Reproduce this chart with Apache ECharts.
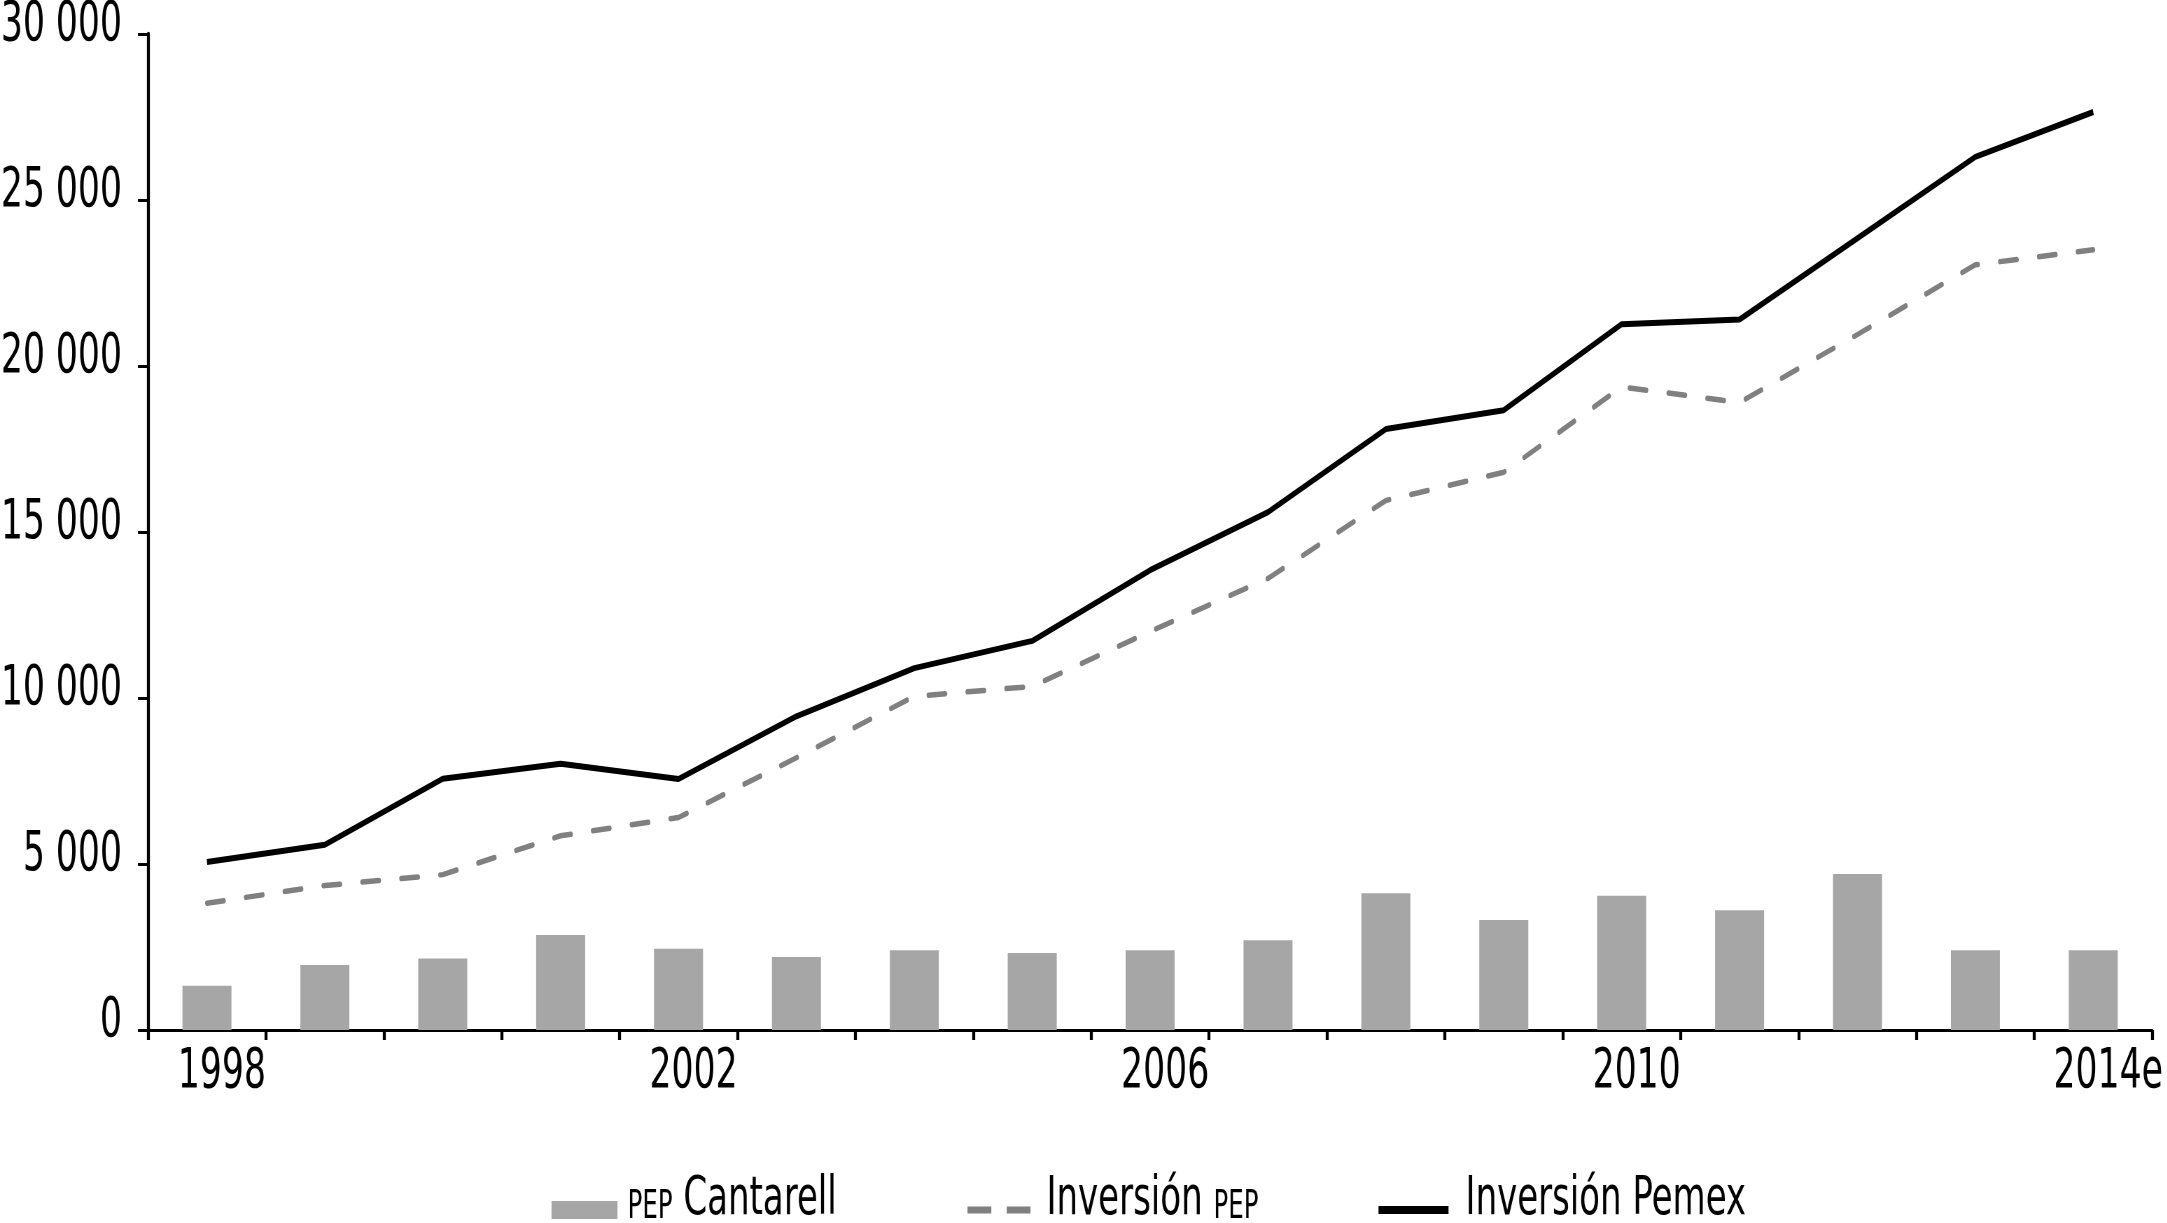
<!DOCTYPE html>
<html>
<head>
<meta charset="utf-8">
<script src="https://cdn.jsdelivr.net/npm/echarts@6/dist/echarts.min.js"></script>
<style>
html,body{margin:0;padding:0;background:#fff;overflow:hidden;width:2167px;height:1223px;}
#chart{width:3096px;height:1223px;transform:scaleX(0.7);transform-origin:0 0;}
</style>
</head>
<body>
<div id="chart"></div>
<script>
var years = ['1998','1999','2000','2001','2002','2003','2004','2005','2006','2007','2008','2009','2010','2011','2012','2013','2014e'];
var pepCantarell = [1330,1955,2150,2860,2445,2200,2400,2320,2400,2700,4120,3310,4040,3610,4700,2400,2400];
var inversionPEP = [3820,4350,4680,5850,6400,8200,10050,10350,12000,13600,15950,16800,19370,18900,20950,23050,23500];
var inversionPemex = [5060,5580,7570,8020,7560,9450,10900,11720,13850,15600,18100,18670,21260,21400,23850,26300,27650];
var yTicks = {min:0, max:30000, interval:5000};

// The chart is drawn 1/0.7 wider and squeezed with CSS to obtain condensed lettering.
var SX = 0.7;
function px(v){ return v / SX; }
var FONT = "'DejaVu Sans Condensed','DejaVu Sans',sans-serif";
var chart = echarts.init(document.getElementById('chart'));
var rich = {
  s:{fontFamily:FONT,fontSize:39,color:'#000',verticalAlign:'bottom',lineHeight:54},
  b:{fontFamily:FONT,fontSize:54,color:'#000',verticalAlign:'bottom',lineHeight:54}
};
function legendCfg(name,icon,left,w,h,gap){
  return {
    data:[{name:name,icon:icon}], left:px(left), top:1168, itemWidth:px(w), itemHeight:h, itemGap:0,
    textStyle:{fontFamily:FONT,fontSize:54,color:'#000',rich:rich,lineHeight:54,padding:[0,0,20,px(gap)-5]},
    formatter:function(n){
      if(n==='PEP Cantarell') return '{s|PEP} {b|Cantarell}';
      if(n==='Inversión PEP') return '{b|Inversión} {s|PEP}';
      return '{b|Inversión Pemex}';
    }
  };
}
chart.setOption({
  animation:false,
  backgroundColor:'#fff',
  grid:{left:px(148),right:px(15),top:34,bottom:193,containLabel:false,outerBoundsMode:'none'},
  legend:[
    legendCfg('PEP Cantarell','rect',548,66,18,10),
    legendCfg('Inversión PEP','path://M0,0h34v7h-34z M56,0h34v7h-34z',964,63,7,16),
    legendCfg('Inversión Pemex','path://M0,0h100v8h-100z',1375,70,8,17)
  ],
  xAxis:{
    type:'category', data:years, boundaryGap:true,
    axisLine:{lineStyle:{color:'#000',width:3}},
    axisTick:{show:true,interval:0,length:10,lineStyle:{color:'#000',width:px(3)}},
    axisLabel:{interval:3,fontFamily:FONT,fontSize:55,lineHeight:54,color:'#000',margin:16,
      formatter:function(v){return '{sp|}{v|'+v+'}';},
      rich:{sp:{width:px(30)},v:{fontFamily:FONT,fontSize:55,lineHeight:54,color:'#000'}}}
  },
  yAxis:{
    type:'value', min:yTicks.min, max:yTicks.max, interval:yTicks.interval,
    splitLine:{show:false},
    axisLine:{show:true,lineStyle:{color:'#000',width:px(3)}},
    axisTick:{show:true,length:px(10),lineStyle:{color:'#000',width:3}},
    axisLabel:{fontFamily:FONT,fontSize:55,color:'#000',margin:px(26),verticalAlign:'bottom',lineHeight:17,
      formatter:function(v){return String(v).replace(/\B(?=(\d{3})+(?!\d))/g,' ');}}
  },
  series:[
    {name:'PEP Cantarell',type:'bar',data:pepCantarell,barWidth:px(49),itemStyle:{color:'#a6a6a6'},z:1},
    {name:'Inversión PEP',type:'line',data:inversionPEP,symbol:'none',
      lineStyle:{color:'#808080',width:5.5,type:[px(17),px(22)],cap:'round'},itemStyle:{color:'#808080'},z:3},
    {name:'Inversión Pemex',type:'line',data:inversionPemex,symbol:'none',
      lineStyle:{color:'#000',width:6},itemStyle:{color:'#000'},z:4}
  ]
});
</script>
</body>
</html>
